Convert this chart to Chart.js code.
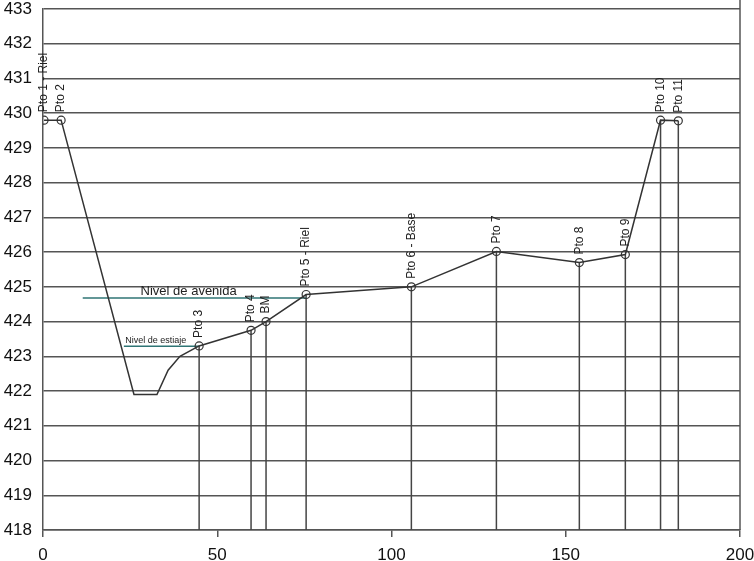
<!DOCTYPE html>
<html>
<head>
<meta charset="utf-8">
<script src="https://cdn.jsdelivr.net/npm/chart.js@4"></script>
<style>
  html, body { margin: 0; padding: 0; background: #fff; }
  #wrap { width: 754px; height: 561px; }
</style>
</head>
<body>
<div id="wrap"><canvas id="perfil"></canvas></div>
<script>
// profile points (distance, elevation)
const distancias = [0.3, 5.2, 26.1, 32.7, 35.9, 39.3, 44.8, 59.7, 64.0, 75.5, 105.7, 130.1, 153.9, 167.1, 177.2, 182.3];
const cotas      = [429.8, 429.8, 421.9, 421.9, 422.6, 423.0, 423.3, 423.75, 424.0, 424.78, 425.0, 426.02, 425.7, 425.93, 429.8, 429.78];
const etiquetas  = ['Pto 1 - Riel', 'Pto 2', '', '', '', '', 'Pto 3', 'Pto 4', 'BM', 'Pto 5 - Riel', 'Pto 6 - Base', 'Pto 7', 'Pto 8', 'Pto 9', 'Pto 10', 'Pto 11'];
const bajantes   = [false, false, false, false, false, false, true, true, true, true, true, true, true, true, true, true];

const nivelAvenidaX = [11.4, 75.5];
const nivelAvenidaY = 424.68;
const nivelEstiajeX = [23.2, 44.8];
const nivelEstiajeY = 423.29;

const yTicks = [418, 419, 420, 421, 422, 423, 424, 425, 426, 427, 428, 429, 430, 431, 432, 433];
const xTicks = [0, 50, 100, 150, 200];

const puntos = distancias.map((d, i) => ({ x: d, y: cotas[i] }));
const fuente = '"Liberation Sans", Arial, sans-serif';

const marcas = {
    id: 'marcas',
    beforeDatasetsDraw(chart) {
        const ctx = chart.ctx;
        const xs = chart.scales.x, ys = chart.scales.y;
        ctx.save();
        ctx.strokeStyle = '#444';
        ctx.lineWidth = 1.5;
        puntos.forEach((p, i) => {
            if (!bajantes[i]) return;
            const px = xs.getPixelForValue(p.x);
            ctx.beginPath();
            ctx.moveTo(px, ys.getPixelForValue(p.y));
            ctx.lineTo(px, ys.getPixelForValue(418));
            ctx.stroke();
        });
        ctx.restore();
    },
    afterDatasetsDraw(chart) {
        const ctx = chart.ctx;
        const xs = chart.scales.x, ys = chart.scales.y;
        ctx.save();
        ctx.fillStyle = '#222';
        ctx.font = '12px ' + fuente;
        ctx.textBaseline = 'middle';
        ctx.textAlign = 'left';
        puntos.forEach((p, i) => {
            if (!etiquetas[i]) return;
            const px = xs.getPixelForValue(p.x);
            const py = ys.getPixelForValue(p.y);
            ctx.save();
            ctx.translate(px, py - 8);
            ctx.rotate(-Math.PI / 2);
            ctx.fillText(etiquetas[i], 0, 0);
            ctx.restore();
        });
        ctx.textBaseline = 'alphabetic';
        ctx.font = '13px ' + fuente;
        ctx.fillText('Nivel de avenida', xs.getPixelForValue(28), ys.getPixelForValue(nivelAvenidaY) - 3);
        ctx.font = '9px ' + fuente;
        ctx.fillText('Nivel de estiaje', xs.getPixelForValue(23.6), ys.getPixelForValue(nivelEstiajeY) - 3);
        // right border
        ctx.strokeStyle = '#555';
        ctx.lineWidth = 1.5;
        ctx.beginPath();
        ctx.moveTo(chart.chartArea.right, 0);
        ctx.lineTo(chart.chartArea.right, ys.getPixelForValue(418));
        ctx.stroke();
        ctx.restore();
    }
};

new Chart(document.getElementById('perfil'), {
    type: 'scatter',
    data: {
        datasets: [{
            data: puntos,
            showLine: true,
            borderColor: '#333',
            borderWidth: 1.5,
            pointRadius: c => etiquetas[c.dataIndex] ? 4 : 0,
            pointBorderWidth: 1.2,
            pointBackgroundColor: 'transparent',
            pointBorderColor: '#333'
        }, {
            data: nivelAvenidaX.map(x => ({ x, y: nivelAvenidaY })),
            showLine: true,
            borderColor: '#2f7575',
            borderWidth: 1.5,
            pointRadius: 0
        }, {
            data: nivelEstiajeX.map(x => ({ x, y: nivelEstiajeY })),
            showLine: true,
            borderColor: '#2f7575',
            borderWidth: 1.5,
            pointRadius: 0
        }]
    },
    options: {
        responsive: true,
        maintainAspectRatio: false,
        animation: false,
        layout: { padding: 0 },
        plugins: { legend: { display: false }, tooltip: { enabled: false } },
        scales: {
            x: {
                type: 'linear',
                min: 0, max: 200,
                afterBuildTicks: s => { s.ticks = xTicks.map(v => ({ value: v })); },
                afterFit: s => { s.height = 31; s.paddingLeft = 0; s.paddingRight = 14; },
                grid: { color: 'transparent', tickColor: '#555', tickLength: 7, lineWidth: 1.5 },
                border: { color: '#555', width: 1.5 },
                ticks: { color: '#111', font: { size: 17, family: fuente }, padding: 8, maxRotation: 0 }
            },
            y: {
                min: 418, max: 433,
                afterBuildTicks: s => { s.ticks = yTicks.map(v => ({ value: v })); },
                afterFit: s => { s.width = 43; s.paddingTop = 9; s.paddingBottom = 0; },
                grid: { color: '#555', lineWidth: 1.5, drawTicks: false },
                border: { color: '#555', width: 1.5 },
                ticks: { color: '#111', font: { size: 17, family: fuente }, padding: 11 }
            }
        }
    },
    plugins: [marcas]
});
</script>
</body>
</html>
